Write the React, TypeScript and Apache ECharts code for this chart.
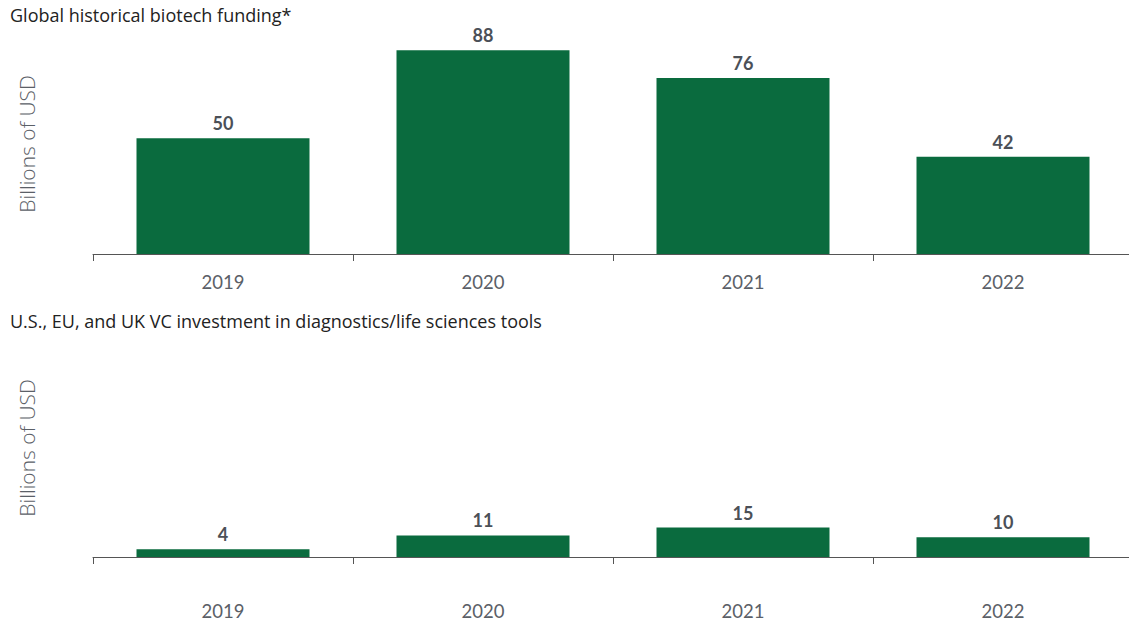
import React, { useEffect, useRef } from "react";
import * as echarts from "echarts";

const categories = ["2019", "2020", "2021", "2022"];
const biotechFunding = [50, 88, 76, 42];
const vcInvestment = [4, 11, 15, 10];
const titles = [
  "Global historical biotech funding*",
  "U.S., EU, and UK VC investment in diagnostics/life sciences tools",
];
const yName = "Billions of USD";

const FONT = "Lato, 'Open Sans', sans-serif";
const TFONT = "'Open Sans', Lato, sans-serif";
const GREEN = "#0a6b3e";

export default function App() {
  const ref = useRef<HTMLDivElement>(null);
  useEffect(() => {
    if (!ref.current) return;
    const chart = echarts.init(ref.current, null, { renderer: "svg" });
    const xAxisBase = (gridIndex: number, margin: number) => ({
      type: "category",
      gridIndex,
      data: categories,
      axisLine: { show: true, lineStyle: { color: "#555", width: 1 } },
      axisTick: { show: true, length: 7, lineStyle: { color: "#555" }, alignWithLabel: false },
      axisLabel: { color: "#5b6067", fontSize: 18.5, fontFamily: FONT, margin },
      splitLine: { show: false },
    });
    const yAxisBase = (gridIndex: number, max: number) => ({
      type: "value",
      gridIndex,
      min: 0,
      max,
      show: true,
      axisLine: { show: false },
      axisTick: { show: false },
      axisLabel: { show: false },
      splitLine: { show: false },
      name: yName,
      nameLocation: "middle",
      nameGap: 56,
      nameTextStyle: { color: "#5b6067", fontSize: 21, fontWeight: 300, fontFamily: TFONT },
    });
    const seriesBase = (idx: number, data: number[]) => ({
      type: "bar",
      xAxisIndex: idx,
      yAxisIndex: idx,
      data,
      barWidth: 173,
      itemStyle: { color: GREEN },
      label: {
        show: true,
        position: "top",
        distance: 6,
        color: "#4b5057",
        fontSize: 18,
        fontWeight: "bold",
        fontFamily: FONT,
      },
    });
    chart.setOption({
      animation: false,
      title: [
        {
          text: titles[0],
          left: 10,
          top: 6,
          padding: 0,
          textStyle: { color: "#222", fontSize: 18, fontWeight: 500, fontFamily: TFONT },
        },
        {
          text: titles[1],
          left: 10,
          top: 312,
          padding: 0,
          textStyle: { color: "#222", fontSize: 18, fontWeight: 500, fontFamily: TFONT },
        },
      ],
      grid: [
        { left: 93, width: 1040, top: 34, height: 220 },
        { left: 93, width: 1040, top: 339, height: 218 },
      ],
      xAxis: [xAxisBase(0, 18), xAxisBase(1, 44)],
      yAxis: [yAxisBase(0, 95), yAxisBase(1, 111)],
      series: [seriesBase(0, biotechFunding), seriesBase(1, vcInvestment)],
    });
    return () => chart.dispose();
  }, []);
  return (
    <div style={{ width: 1129, height: 622, position: "absolute", left: 0, top: 0, overflow: "hidden", background: "#fff" }}>
      <div ref={ref} style={{ width: 1140, height: 622 }} />
    </div>
  );
}
